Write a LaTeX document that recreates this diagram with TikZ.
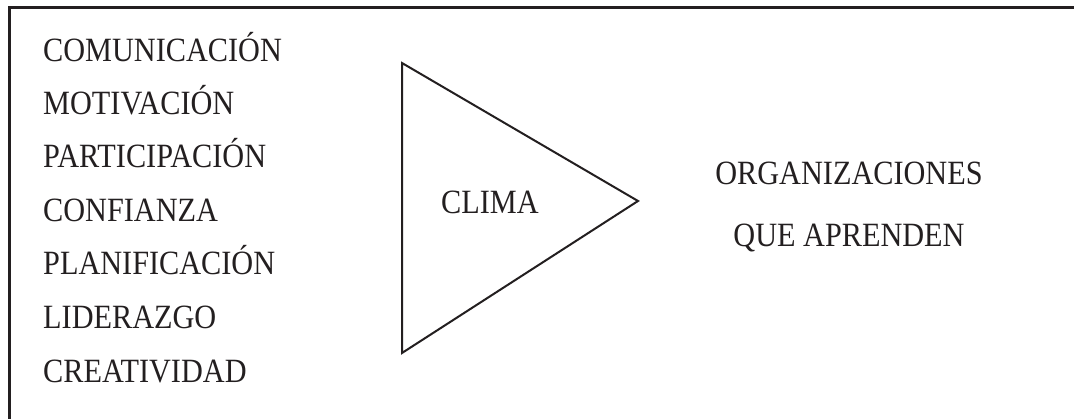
\documentclass[tikz,border=0pt]{standalone}
\usepackage{fontspec}
\setmainfont{Liberation Serif}[FakeStretch=0.89]
\definecolor{ink}{HTML}{231F20}
\tikzset{
  label/.style={inner sep=0pt, anchor=base west, text=ink, font=\fontsize{34}{40}\selectfont},
  frame/.style={draw=ink, line width=2.2pt},
  wedge/.style={draw=ink, line width=2pt, line join=miter}
}
\begin{document}
\begin{tikzpicture}[x=1pt, y=-1pt]
  \useasboundingbox (0,0) rectangle (1074,419);
  % outer frame (only top and left edges fall inside the page)
  \draw[frame] (1080,7.5) -- (9.5,7.5) -- (9.5,425);

  % list of factors
  \node[label] (f1) at (43,62)  {COMUNICACIÓN};
  \node[label] (f2) at (43,115) {MOTIVACIÓN};
  \node[label] (f3) at (43,168) {PARTICIPACIÓN};
  \node[label] (f4) at (43,222) {CONFIANZA};
  \node[label] (f5) at (43,275) {PLANIFICACIÓN};
  \node[label] (f6) at (43,329) {LIDERAZGO};
  \node[label] (f7) at (43,383) {CREATIVIDAD};

  % triangle with the climate label
  \coordinate (t1) at (402,63);
  \coordinate (t2) at (402,353);
  \coordinate (t3) at (638,201);
  \draw[wedge] (t1) -- (t3) -- (t2) -- cycle;
  \node[label] (clima) at (441,214) {CLIMA};

  % result
  \node[label, anchor=base] (org) at (849,185) {ORGANIZACIONES};
  \node[label, anchor=base] (que) at (849,247) {QUE APRENDEN};
\end{tikzpicture}
\end{document}
